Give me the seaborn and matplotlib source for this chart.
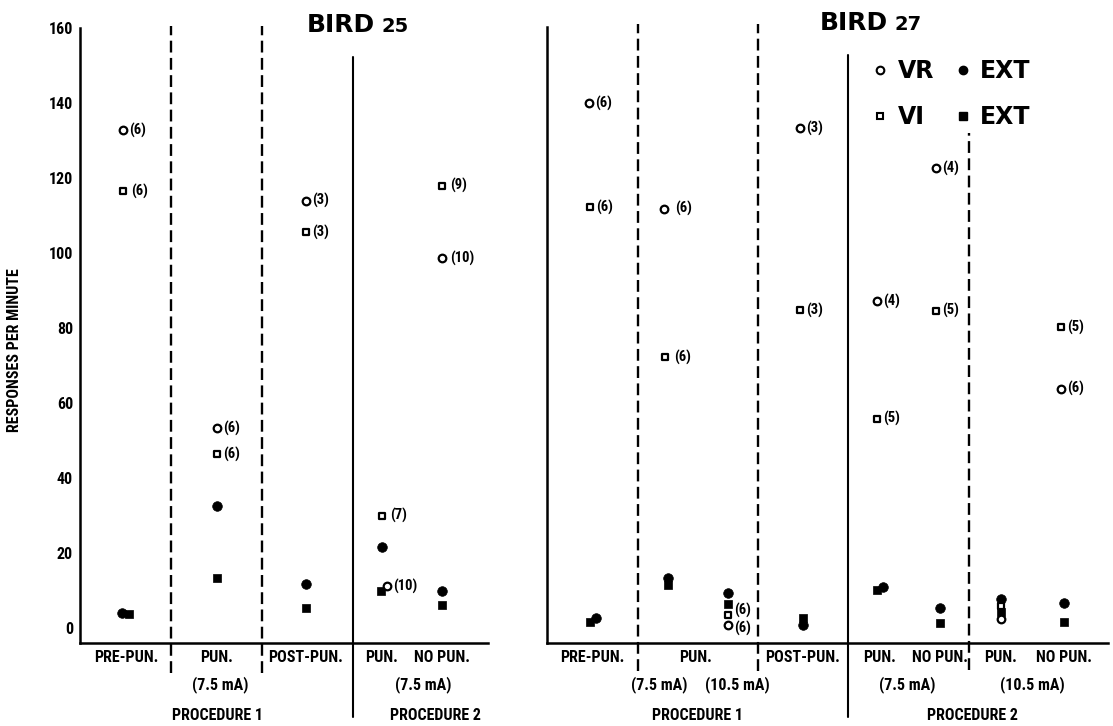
import matplotlib
matplotlib.use('Agg')
import matplotlib.pyplot as plt
import matplotlib.transforms as mtransforms
from matplotlib import font_manager
from matplotlib.lines import Line2D
import pandas as pd
import seaborn as sns

# --- DATOS: BIRD 25 ---
b25_cond = ['pre', 'pun75', 'post', 'p2_pun75', 'p2_nopun75']
b25_vr = [132.8, 53.3, 113.9, 11.2, 98.6]
b25_vi = [116.5, 46.4, 105.6, 29.9, 117.9]
b25_ext_vr = [4.0, 32.5, 11.7, 21.6, 9.9]
b25_ext_vi = [3.8, 13.3, 5.4, 9.9, 6.1]
b25_vr_n = ['(6)', '(6)', '(3)', '(10)', '(10)']
b25_vi_n = ['(6)', '(6)', '(3)', '(7)', '(9)']

# --- DATOS: BIRD 27 ---
b27_cond = ['pre', 'pun75', 'pun105', 'post', 'p2_pun75', 'p2_nopun75', 'p2_pun105', 'p2_nopun105']
b27_vr = [139.7, 111.5, 0.5, 133.0, 86.9, 122.3, 2.0, 63.5]
b27_vi = [112.0, 72.0, 3.2, 84.5, 55.5, 84.3, 5.5, 80.0]
b27_ext_vr = [2.3, 13.1, 9.1, 0.5, 10.7, 5.1, 7.5, 6.4]
b27_ext_vi = [1.2, 11.2, 6.1, 2.3, 9.9, 1.1, 4.0, 1.4]
b27_vr_n = ['(6)', '(6)', '(6)', '(3)', '(4)', '(4)', '', '(6)']
b27_vi_n = ['(6)', '(6)', '(6)', '(3)', '(5)', '(5)', '', '(5)']

# --- TEXTOS ---
yticks = [0, 20, 40, 60, 80, 100, 120, 140, 160]
b25_labels = ['PRE-PUN.', 'PUN.', 'POST-PUN.', 'PUN.', 'NO PUN.']
b27_labels = ['PRE-PUN.', '', '', 'POST-PUN.', 'PUN.', 'NO PUN.', 'PUN.', 'NO PUN.']

# --- LAYOUT (pixeles dentro de cada eje) ---
W, H = 1113, 726
pos25 = dict(zip(b25_cond, [46, 137, 226, 302, 362]))
pos27 = dict(zip(b27_cond, [45, 121, 181, 256, 333, 393, 454, 517]))
nudge = {
    ('b25', 'pre', 'ext_vr'): -4, ('b25', 'pre', 'ext_vi'): 3,
    ('b25', 'pre', 'vr'): -3, ('b25', 'pre', 'vi'): -3,
    ('b25', 'p2_pun75', 'vr'): 5, ('b25', 'p2_pun75', 'ext_vi'): -1,
    ('b27', 'pre', 'ext_vr'): 4, ('b27', 'pre', 'ext_vi'): -2,
    ('b27', 'pre', 'vr'): -3, ('b27', 'pre', 'vi'): -2,
    ('b27', 'pun75', 'vr'): -4, ('b27', 'pun75', 'vi'): -3,
    ('b27', 'post', 'vr'): -3, ('b27', 'post', 'vi'): -3,
    ('b27', 'p2_pun75', 'ext_vr'): 3, ('b27', 'p2_pun75', 'ext_vi'): -3,
    ('b27', 'p2_pun75', 'vr'): -3, ('b27', 'p2_pun75', 'vi'): -3,
    ('b27', 'p2_nopun75', 'vr'): -4, ('b27', 'p2_nopun75', 'vi'): -4,
    ('b27', 'p2_nopun105', 'vr'): -3, ('b27', 'p2_nopun105', 'vi'): -3,
}
# desplazamiento (pt) de las etiquetas "(n)"
note_off = {('b27', 'pun75', 'vr'): (8, 0), ('b27', 'pun75', 'vi'): (6.5, 0),
            ('b25', 'pre', 'vi'): (5.5, 0), ('b25', 'p2_nopun75', 'vi'): (6, 0),
            ('b25', 'p2_nopun75', 'vr'): (6, 0), ('b25', 'p2_pun75', 'vi'): (6, 0),
            ('b27', 'pun105', 'vi'): (4.5, 3.5), ('b27', 'pun105', 'vr'): (4.5, -2.5)}


def pick_font(cands):
    names = {f.name for f in font_manager.fontManager.ttflist}
    for c in cands:
        if c in names:
            return c
    return 'DejaVu Sans'


NARROW = pick_font(['Liberation Sans Narrow', 'Roboto Condensed', 'DejaVu Sans'])

sns.set_theme(style='white')
plt.rcParams['font.family'] = [NARROW, 'DejaVu Sans']
plt.rcParams['font.stretch'] = 'condensed'
for k in ['text.color', 'axes.labelcolor', 'xtick.color', 'ytick.color', 'axes.edgecolor']:
    plt.rcParams[k] = 'black'


def tabla(bird, conds, vr, vi, evr, evi, vrn, vin, pos):
    filas = []
    for serie, vals, notas in [('ext_vi', evi, None), ('ext_vr', evr, None),
                               ('vi', vi, vin), ('vr', vr, vrn)]:
        for i, c in enumerate(conds):
            filas.append(dict(bird=bird, cond=c, serie=serie, value=vals[i],
                              note=notas[i] if notas else '',
                              x=pos[c] + nudge.get((bird, c, serie), 0)))
    return pd.DataFrame(filas)


df25 = tabla('b25', b25_cond, b25_vr, b25_vi, b25_ext_vr, b25_ext_vi, b25_vr_n, b25_vi_n, pos25)
df27 = tabla('b27', b27_cond, b27_vr, b27_vi, b27_ext_vr, b27_ext_vi, b27_vr_n, b27_vi_n, pos27)

estilos = {
    'ext_vi': dict(marker='s', s=40, color='black', edgecolor='black', linewidth=0.5),
    'ext_vr': dict(marker='o', s=48, color='black', edgecolor='black', linewidth=0.5),
    'vi': dict(marker='s', s=22, facecolor='white', edgecolor='black', linewidth=1.6),
    'vr': dict(marker='o', s=30, facecolor='white', edgecolor='black', linewidth=1.6),
}

fig = plt.figure(figsize=(W / 100, H / 100), dpi=100)
ax1 = fig.add_axes([80 / W, 1 - 643 / H, 408 / W, 615 / H])
ax2 = fig.add_axes([547 / W, 1 - 643 / H, 561 / W, 616 / H])

FS = 11.5
tick_font = dict(fontsize=FS, fontweight='bold')
lab_font = dict(fontsize=FS, fontweight='bold', ha='center', va='center')

for ax, df, bird in [(ax1, df25, 'b25'), (ax2, df27, 'b27')]:
    for serie in ['ext_vi', 'ext_vr', 'vi', 'vr']:
        sub = df[df.serie == serie]
        sns.scatterplot(data=sub, x='x', y='value', ax=ax, zorder=3, clip_on=False,
                        legend=False, **estilos[serie])
        for _, r in sub.iterrows():
            if r.note:
                ax.annotate(r.note, (r.x, r.value), xytext=note_off.get((bird, r.cond, serie), (4.2, 0)),
                            textcoords='offset points', ha='left', va='center',
                            fontsize=10.5, fontweight='bold')
    for s in ['top', 'right']:
        ax.spines[s].set_visible(False)
    for s in ['left', 'bottom']:
        ax.spines[s].set_linewidth(1.8)
        ax.spines[s].set_color('black')
    ax.set_xlabel('')
    ax.set_ylabel('')
    ax.tick_params(axis='y', direction='in', length=7, width=1.6, pad=5, colors='black')
    ax.tick_params(axis='x', direction='in', length=5, width=1.6, pad=5, colors='black')
    ax.set_yticks(yticks)

ax1.set_xlim(0, 408)
ax1.set_ylim(-4, 160)
ax2.set_xlim(0, 561)
ax2.set_ylim(-4.27, 160)

ax1.set_yticks(yticks, [str(t) for t in yticks], **tick_font)
ax2.set_yticks(yticks, [''] * len(yticks))
ax1.set_xticks([pos25[c] for c in b25_cond], b25_labels, **tick_font)
ax2.set_xticks([pos27[c] for c in b27_cond], b27_labels, **tick_font)

# lineas divisorias
dash = dict(color='black', linewidth=1.7, linestyle=(0, (5, 2.3)), clip_on=False)
solid = dict(color='black', linewidth=1.5, clip_on=False)
for x in [91, 182]:
    ax1.axvline(x, ymin=-0.049, ymax=1.003, **dash)
ax1.axvline(273, ymin=-0.120, ymax=0.953, **solid)
for x in [91, 211]:
    ax2.axvline(x, ymin=-0.045, ymax=1.005, **dash)
ax2.axvline(422, ymin=-0.044, ymax=0.828, **dash)
ax2.axvline(301, ymin=-0.120, ymax=0.955, **solid)

# etiquetas de segunda y tercera fila
def fila(ax, x, ypx, txt):
    tr = mtransforms.blended_transform_factory(ax.transData, fig.transFigure)
    ax.text(x, 1 - ypx / H, txt, transform=tr, **lab_font)

fila(ax1, 140, 685, '(7.5 mA)')
fila(ax1, 343, 685, '(7.5 mA)')
fila(ax1, 138, 716, 'PROCEDURE 1')
fila(ax1, 355, 716, 'PROCEDURE 2')
fila(ax2, 149, 657, 'PUN.')
fila(ax2, 112, 685, '(7.5 mA)')
fila(ax2, 190, 685, '(10.5 mA)')
fila(ax2, 360, 685, '(7.5 mA)')
fila(ax2, 485, 685, '(10.5 mA)')
fila(ax2, 151, 716, 'PROCEDURE 1')
fila(ax2, 425, 716, 'PROCEDURE 2')

fig.text(15 / W, 1 - 350 / H, 'RESPONSES PER MINUTE', rotation=90, ha='center', va='center',
         fontsize=FS, fontweight='bold')

# titulos
heavy = ['DejaVu Sans']
tk = dict(fontweight='heavy', family=heavy, stretch='normal', color='black')
fig.text(375 / W, 1 - 32 / H, 'BIRD', ha='right', va='baseline', fontsize=18, **tk)
fig.text(381 / W, 1 - 32 / H, '25', ha='left', va='baseline', fontsize=14, **tk)
fig.text(888 / W, 1 - 30 / H, 'BIRD', ha='right', va='baseline', fontsize=18, **tk)
fig.text(895 / W, 1 - 30 / H, '27', ha='left', va='baseline', fontsize=14, **tk)

# leyenda
handles = [
    Line2D([], [], marker='o', ls='', ms=5.5, mfc='white', mec='black', mew=1.5),
    Line2D([], [], marker='s', ls='', ms=5, mfc='white', mec='black', mew=1.5),
    Line2D([], [], marker='o', ls='', ms=6, mfc='black', mec='black'),
    Line2D([], [], marker='s', ls='', ms=5.5, mfc='black', mec='black'),
]
leg = ax2.legend(handles, ['VR', 'VI', 'EXT', 'EXT'], ncol=2, frameon=False, loc='upper left',
                 bbox_to_anchor=(873 / W, 1 - 59 / H), bbox_transform=fig.transFigure,
                 borderpad=0, borderaxespad=0, handlelength=0.6, handletextpad=0.45,
                 columnspacing=0.9, labelspacing=0.95,
                 prop=dict(family='DejaVu Sans', weight='heavy', size=17, stretch='normal'))

fig.savefig('out.png', dpi=100)
